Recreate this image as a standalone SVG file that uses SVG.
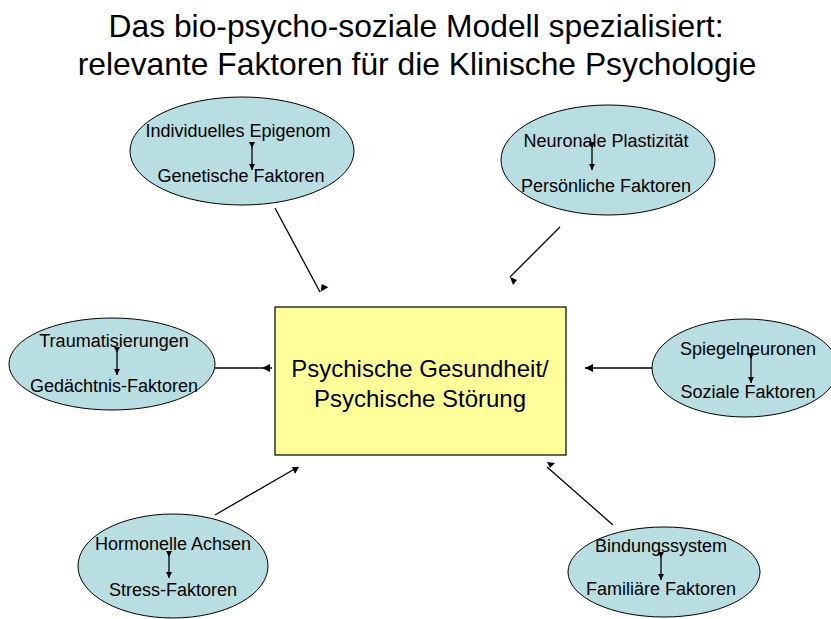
<svg xmlns="http://www.w3.org/2000/svg" width="831" height="619" viewBox="0 0 831 619">
<style>
text{font-family:"Liberation Sans",Arial,sans-serif;fill:#000}
.t{font-size:31.8px;text-anchor:middle}
.n{font-size:18px;text-anchor:middle}
.c{font-size:24px;text-anchor:middle}
.e{fill:#B8DEE1;stroke:#000;stroke-width:1}
.l{stroke:#000;stroke-width:1.3;fill:none}
.i{stroke:#000;stroke-width:1.3;fill:none;marker-start:url(#s);marker-end:url(#a)}
.h{fill:#000}
</style>
<defs>
<marker id="a" viewBox="0 0 10 10" refX="10" refY="5" markerWidth="6" markerHeight="6" orient="auto" markerUnits="userSpaceOnUse"><path d="M0,0L10,5L0,10z"/></marker>
<marker id="s" viewBox="0 0 10 10" refX="0" refY="5" markerWidth="6" markerHeight="6" orient="auto" markerUnits="userSpaceOnUse"><path d="M0,0L10,5L0,10z"/></marker>
</defs>
<rect width="831" height="619" fill="#fff"/>
<g id="title">
<text class="t" x="416" y="37">Das bio-psycho-soziale Modell spezialisiert:</text>
<text class="t" x="417" y="75">relevante Faktoren für die Klinische Psychologie</text>
</g>
<g id="connectors">
<line class="l" x1="275" y1="208" x2="320" y2="292"/>
<polygon class="h" points="321.7,284 328.3,287.3 320.7,291.7"/>
<line class="l" x1="560" y1="227" x2="510" y2="277"/>
<polygon class="h" points="510,277 517,280 513,285"/>
<line class="l" x1="215" y1="368" x2="272" y2="368"/>
<polygon class="h" points="262,368 270,364 270,372"/>
<line class="l" x1="652" y1="368" x2="585" y2="368"/>
<polygon class="h" points="585,368 593,364 593,372"/>
<line class="l" x1="215" y1="515" x2="298" y2="467"/>
<polygon class="h" points="292,467 299,467 295,474"/>
<line class="l" x1="613" y1="525" x2="547" y2="467"/>
<polygon class="h" points="547,462 555,463 550,468"/>
</g>
<g id="center">
<rect x="275" y="307" width="291" height="148" fill="#FFFF99" stroke="#000" stroke-width="1.2"/>
<text class="c" x="420" y="377">Psychische Gesundheit/</text>
<text class="c" x="420" y="407">Psychische Störung</text>
</g>
<g id="node-genetisch">
<ellipse class="e" cx="242" cy="151" rx="112" ry="54"/>
<text class="n" x="238" y="137">Individuelles Epigenom</text>
<text class="n" x="241" y="182">Genetische Faktoren</text>
<line class="i" x1="252" y1="142" x2="252" y2="170"/>
</g>
<g id="node-persoenlich">
<ellipse class="e" cx="608" cy="160" rx="107" ry="55"/>
<text class="n" x="606" y="147">Neuronale Plastizität</text>
<text class="n" x="606" y="192">Persönliche Faktoren</text>
<line class="i" x1="592" y1="142" x2="592" y2="170"/>
</g>
<g id="node-gedaechtnis">
<ellipse class="e" cx="112" cy="364" rx="103" ry="46"/>
<text class="n" x="114" y="347">Traumatisierungen</text>
<text class="n" x="114" y="392">Gedächtnis-Faktoren</text>
<line class="i" x1="117" y1="347" x2="117" y2="375"/>
</g>
<g id="node-sozial">
<ellipse class="e" cx="745" cy="368" rx="93" ry="49"/>
<text class="n" x="748" y="355">Spiegelneuronen</text>
<text class="n" x="748" y="398">Soziale Faktoren</text>
<line class="i" x1="751" y1="353" x2="751" y2="383"/>
</g>
<g id="node-stress">
<ellipse class="e" cx="173" cy="566" rx="95" ry="52"/>
<text class="n" x="173" y="550">Hormonelle Achsen</text>
<text class="n" x="173" y="596">Stress-Faktoren</text>
<line class="i" x1="169" y1="551" x2="169" y2="578"/>
</g>
<g id="node-familiaer">
<ellipse class="e" cx="664" cy="572" rx="96" ry="45"/>
<text class="n" x="661" y="552">Bindungssystem</text>
<text class="n" x="661" y="595">Familiäre Faktoren</text>
<line class="i" x1="661" y1="552" x2="661" y2="580"/>
</g>
</svg>
